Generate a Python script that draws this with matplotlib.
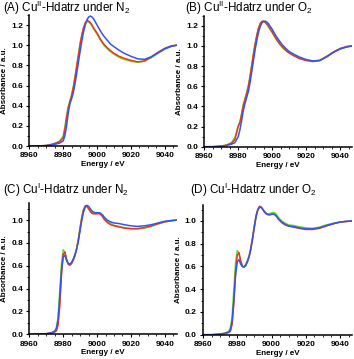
import matplotlib
matplotlib.use("Agg")
import matplotlib.pyplot as plt
from matplotlib.ticker import MultipleLocator

plt.rcParams['font.family'] = ['Liberation Sans', 'DejaVu Sans']
plt.rcParams['mathtext.fontset'] = 'custom'
plt.rcParams['mathtext.rm'] = 'Liberation Sans'
plt.rcParams['mathtext.it'] = 'Liberation Sans:italic'
plt.rcParams['mathtext.bf'] = 'Liberation Sans:bold'

# ---------------- data ----------------
titles = [r"(A) Cu$^{\mathrm{II}}$-Hdatrz under N$_{2}$",
          r"(B) Cu$^{\mathrm{II}}$-Hdatrz under O$_{2}$",
          r"(C) Cu$^{\mathrm{I}}$-Hdatrz under N$_{2}$",
          r"(D) Cu$^{\mathrm{I}}$-Hdatrz under O$_{2}$"]

energy_II = [8960, 8965, 8970, 8973, 8976, 8978, 8980, 8981, 8982, 8983, 8984, 8985, 8986,
             8987, 8988, 8989, 8990, 8991, 8992, 8993, 8994, 8995, 8996, 8997, 8998, 9000,
             9002, 9004, 9006, 9008, 9010, 9013, 9016, 9020, 9024, 9028, 9032, 9036, 9040,
             9044, 9047]

A_red = [0, 0, 0.005, 0.015, 0.03, 0.045, 0.08, 0.16, 0.28, 0.38, 0.44, 0.50, 0.58,
         0.68, 0.79, 0.90, 1.01, 1.10, 1.17, 1.22, 1.245, 1.24, 1.225, 1.20, 1.17, 1.12,
         1.06, 1.01, 0.975, 0.945, 0.92, 0.89, 0.87, 0.85, 0.835, 0.845, 0.885, 0.93, 0.97,
         0.995, 1.0]
A_green = [0, 0, 0.005, 0.015, 0.032, 0.05, 0.10, 0.19, 0.30, 0.39, 0.45, 0.51, 0.59,
           0.69, 0.80, 0.91, 1.02, 1.10, 1.17, 1.215, 1.235, 1.23, 1.215, 1.19, 1.16, 1.11,
           1.05, 1.00, 0.965, 0.935, 0.91, 0.88, 0.86, 0.84, 0.83, 0.84, 0.875, 0.92, 0.96,
           0.99, 1.0]
A_blue = [0, 0, 0.004, 0.01, 0.02, 0.03, 0.05, 0.10, 0.20, 0.33, 0.42, 0.47, 0.53,
          0.62, 0.72, 0.83, 0.94, 1.04, 1.13, 1.20, 1.25, 1.28, 1.29, 1.28, 1.26, 1.20,
          1.14, 1.09, 1.05, 1.01, 0.985, 0.95, 0.92, 0.89, 0.865, 0.86, 0.885, 0.925, 0.965,
          0.99, 1.0]

B_red = [0, 0, 0.005, 0.015, 0.035, 0.07, 0.20, 0.24, 0.32, 0.41, 0.47, 0.53, 0.60,
         0.70, 0.81, 0.92, 1.02, 1.11, 1.18, 1.225, 1.245, 1.245, 1.235, 1.215, 1.19, 1.14,
         1.08, 1.03, 0.99, 0.955, 0.93, 0.90, 0.875, 0.855, 0.845, 0.855, 0.895, 0.94, 0.975,
         0.995, 1.0]
B_green = [0, 0, 0.005, 0.015, 0.04, 0.09, 0.21, 0.25, 0.33, 0.42, 0.48, 0.54, 0.61,
           0.71, 0.82, 0.93, 1.03, 1.11, 1.18, 1.22, 1.24, 1.24, 1.23, 1.21, 1.185, 1.13,
           1.075, 1.025, 0.985, 0.955, 0.93, 0.905, 0.88, 0.86, 0.85, 0.86, 0.895, 0.935, 0.97,
           0.99, 1.0]
B_blue = [0, 0, 0.004, 0.012, 0.025, 0.04, 0.10, 0.17, 0.26, 0.36, 0.43, 0.49, 0.55,
          0.64, 0.75, 0.86, 0.97, 1.06, 1.14, 1.195, 1.23, 1.245, 1.245, 1.235, 1.215, 1.165,
          1.105, 1.055, 1.01, 0.975, 0.945, 0.915, 0.89, 0.865, 0.85, 0.855, 0.89, 0.935, 0.97,
          0.99, 1.0]

energy_I = [8960, 8965, 8970, 8973, 8975, 8976, 8977, 8978, 8979, 8980, 8981, 8982, 8983,
            8984, 8985, 8986, 8987, 8988, 8989, 8990, 8991, 8992, 8993, 8994, 8995, 8996,
            8997, 8998, 8999, 9000, 9001, 9002, 9003, 9004, 9006, 9008, 9010, 9013, 9016,
            9020, 9024, 9028, 9032, 9036, 9040, 9044, 9047]

C_red = [0, 0, 0.005, 0.012, 0.02, 0.03, 0.08, 0.25, 0.52, 0.70, 0.72, 0.66, 0.615,
         0.605, 0.62, 0.65, 0.69, 0.75, 0.83, 0.93, 1.02, 1.09, 1.125, 1.12, 1.10, 1.075,
         1.06, 1.055, 1.055, 1.055, 1.058, 1.05, 1.035, 1.01, 0.98, 0.96, 0.95, 0.94, 0.93,
         0.925, 0.925, 0.935, 0.95, 0.97, 0.985, 0.995, 1.0]
C_green = [0, 0, 0.005, 0.015, 0.03, 0.06, 0.15, 0.38, 0.62, 0.74, 0.72, 0.65, 0.61,
           0.61, 0.63, 0.66, 0.70, 0.76, 0.84, 0.94, 1.03, 1.09, 1.12, 1.12, 1.10, 1.08,
           1.065, 1.06, 1.06, 1.06, 1.065, 1.06, 1.045, 1.02, 0.99, 0.97, 0.955, 0.945, 0.935,
           0.925, 0.925, 0.93, 0.945, 0.965, 0.985, 0.995, 1.0]
C_blue = [0, 0, 0.005, 0.012, 0.025, 0.05, 0.13, 0.33, 0.56, 0.68, 0.69, 0.65, 0.62,
          0.615, 0.63, 0.66, 0.70, 0.75, 0.82, 0.91, 1.00, 1.07, 1.115, 1.13, 1.12, 1.10,
          1.08, 1.07, 1.065, 1.065, 1.065, 1.06, 1.05, 1.03, 1.00, 0.985, 0.975, 0.97, 0.96,
          0.95, 0.945, 0.95, 0.96, 0.975, 0.99, 0.997, 1.0]

D_red = [0, 0, 0.005, 0.012, 0.02, 0.03, 0.09, 0.28, 0.55, 0.70, 0.72, 0.65, 0.60,
         0.595, 0.61, 0.645, 0.69, 0.76, 0.85, 0.95, 1.04, 1.10, 1.13, 1.12, 1.10, 1.075,
         1.06, 1.055, 1.055, 1.058, 1.06, 1.055, 1.04, 1.015, 0.985, 0.965, 0.955, 0.945, 0.935,
         0.925, 0.925, 0.935, 0.955, 0.975, 0.99, 0.995, 1.0]
D_green = [0, 0, 0.005, 0.015, 0.03, 0.06, 0.16, 0.40, 0.63, 0.74, 0.72, 0.64, 0.60,
           0.60, 0.62, 0.655, 0.70, 0.77, 0.86, 0.96, 1.05, 1.10, 1.12, 1.12, 1.10, 1.08,
           1.065, 1.06, 1.065, 1.07, 1.075, 1.07, 1.055, 1.03, 1.0, 0.98, 0.965, 0.96, 0.95,
           0.94, 0.935, 0.945, 0.965, 0.98, 0.99, 0.997, 1.0]
D_blue = [0, 0, 0.005, 0.012, 0.022, 0.045, 0.12, 0.30, 0.52, 0.64, 0.66, 0.62, 0.60,
          0.595, 0.61, 0.645, 0.69, 0.76, 0.85, 0.95, 1.04, 1.095, 1.12, 1.12, 1.10, 1.08,
          1.065, 1.055, 1.055, 1.058, 1.06, 1.055, 1.04, 1.02, 0.99, 0.97, 0.955, 0.95, 0.94,
          0.93, 0.93, 0.94, 0.96, 0.975, 0.99, 0.997, 1.0]

xlabel = "Energy / eV"
ylabel = "Absorbance / a.u."
x_ticks = [8960, 8980, 9000, 9020, 9040]

colors = {'green': '#66dd22', 'red': '#ee3322', 'blue': '#3355ee'}

panels = [
    (energy_II, A_red, A_green, A_blue, (0, 1.3), 0.2),
    (energy_II, B_red, B_green, B_blue, (0, 1.3), 0.2),
    (energy_I, C_red, C_green, C_blue, (0, 1.15), 0.2),
    (energy_I, D_red, D_green, D_blue, (0, 1.14), 0.2),
]

W, H = 354, 359
fig = plt.figure(figsize=(W / 100, H / 100), dpi=100)

# axes rectangles in pixels: left, top, right, bottom
rects = [(29.3, 15, 176.7, 146), (204.3, 15.7, 352, 146.7),
         (29.3, 203, 176.7, 334.3), (203, 205, 352, 334.7)]
title_pos = [(3, 8), (185, 8), (3, 190), (190, 190)]

for i, (rect, panel) in enumerate(zip(rects, panels)):
    l, t, r, b = rect
    ax = fig.add_axes([l / W, 1 - b / H, (r - l) / W, (b - t) / H])
    e, red, green, blue, ylim, ystep = panel
    ax.plot(e, green, color=colors['green'], lw=1.1)
    ax.plot(e, red, color=colors['red'], lw=1.1)
    ax.plot(e, blue, color=colors['blue'], lw=1.1)
    ax.set_xlim(8960, 9047)
    ax.set_ylim(*ylim)
    ax.set_xticks(x_ticks)
    ax.xaxis.set_minor_locator(MultipleLocator(5))
    ax.yaxis.set_major_locator(MultipleLocator(ystep))
    ax.yaxis.set_minor_locator(MultipleLocator(0.1))
    ax.yaxis.set_major_formatter(matplotlib.ticker.FormatStrFormatter('%.1f'))
    for s in ['top', 'right']:
        ax.spines[s].set_visible(False)
    for s in ['left', 'bottom']:
        ax.spines[s].set_linewidth(1.1)
    ax.tick_params(which='major', direction='out', length=2.5, width=0.8,
                   labelsize=6.0, pad=2)
    ax.tick_params(which='minor', direction='out', length=1.5, width=0.6)
    for lab in ax.get_xticklabels() + ax.get_yticklabels():
        lab.set_fontweight('bold')
    ax.set_xlabel(xlabel, fontsize=5.8, fontweight='bold', labelpad=1.2)
    ax.set_ylabel(ylabel, fontsize=5.8, fontweight='bold', labelpad=2)
    tx, ty = title_pos[i]
    fig.text(tx / W, 1 - ty / H, titles[i], fontsize=8.4, ha='left', va='center')

fig.savefig("out.png", dpi=100)
